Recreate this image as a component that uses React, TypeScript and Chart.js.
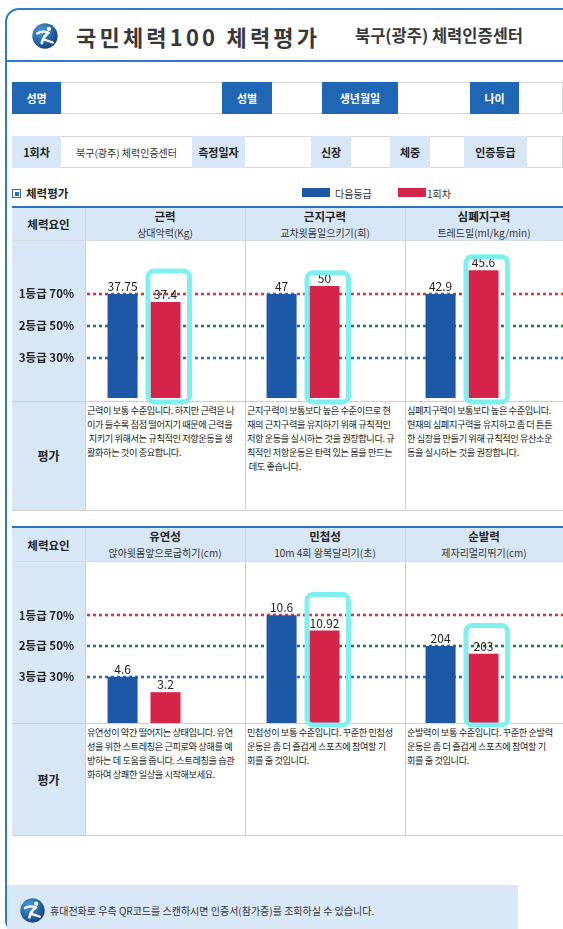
import React, { useEffect, useRef } from 'react';
import { Chart, registerables } from 'chart.js';

Chart.register(...registerables);

const FONT = '"Noto Sans CJK KR", "Noto Sans", sans-serif';

// ---- data ----
const seriesNames = ['다음등급', '1회차', '2회차'];

const gradeLevels = [70, 50, 30];
const gradeLabels = ['1등급 70%', '2등급 50%', '3등급 30%'];

const row1Factors = ['근력', '근지구력', '심폐지구력'];
const row1Tests = ['상대악력(Kg)', '교차윗몸일으키기(회)', '트레드밀(ml/kg/min)'];
const row1NextValues = [37.75, 47, 42.9];
const row1FirstValues = [37.4, 50, 45.6];
const row1NextLevel = [70, 70, 70];
const row1FirstLevel = [65, 75, 85];
const row1MarkTop = [86, 85, 95];

const row2Factors = ['유연성', '민첩성', '순발력'];
const row2Tests = ['앉아윗몸앞으로굽히기(cm)', '10m 4회 왕복달리기(초)', '제자리멀리뛰기(cm)'];
const row2NextValues = [4.6, 10.6, 204];
const row2FirstValues = [3.2, 10.92, 203];
const row2NextLevel = [30, 70, 50];
const row2FirstLevel = [20, 60, 45];
const row2MarkTop: (number | null)[] = [null, 85, 65];

const row1Comments = [
  ['근력이 보통 수준입니다. 하지만 근력은 나', '이가 들수록 점점 떨어지기 때문에 근력을', ' 지키기 위해서는 규칙적인 저항운동을 생', '활화하는 것이 중요합니다.'],
  ['근지구력이 보통보다 높은 수준이므로 현', '재의 근지구력을 유지하기 위해 규칙적인', '저항 운동을 실시하는 것을 권장합니다. 규', '칙적인 저항운동은 탄력 있는 몸을 만드는', ' 데도 좋습니다.'],
  ['심폐지구력이 보통보다 높은 수준입니다.', '현재의 심폐지구력을 유지하고 좀 더 튼튼', '한 심장을 만들기 위해 규칙적인 유산소운', '동을 실시하는 것을 권장합니다.'],
];
const row2Comments = [
  ['유연성이 약간 떨어지는 상태입니다. 유연', '성을 위한 스트레칭은 근피로와 상해를 예', '방하는 데 도움을 줍니다. 스트레칭을 습관', '화하여 상쾌한 일상을 시작해보세요.'],
  ['민첩성이 보통 수준입니다. 꾸준한 민첩성', '운동은 좀 더 즐겁게 스포츠에 참여할 기', '회를 줄 것입니다.'],
  ['순발력이 보통 수준입니다. 꾸준한 순발력', '운동은 좀 더 즐겁게 스포츠에 참여할 기', '회를 줄 것입니다.'],
];

// ---- styles ----
const BLUE_BAR = '#1d58a6';
const RED_BAR = '#d6234a';
const GRADE_COLORS = ['#d9343f', '#2a7a45', '#2b6cc4'];
const FRAME_BLUE = '#2d7bc6';
const CELL_BLUE = '#1f66b5';
const LIGHT = '#d7e7f6';
const MARK = '#7ff0f0';

const overlayPlugin = {
  id: 'overlay',
  beforeDatasetsDraw(chart: any) {
    const { ctx, chartArea, scales } = chart;
    const y = scales.y;
    ctx.save();
    ctx.lineWidth = 2.6;
    ctx.setLineDash([3, 3]);
    gradeLevels.forEach((v, i) => {
      const py = Math.round(y.getPixelForValue(v));
      ctx.strokeStyle = GRADE_COLORS[i];
      ctx.beginPath();
      ctx.moveTo(chartArea.left + 1, py);
      ctx.lineTo(chartArea.right, py);
      ctx.stroke();
    });
    ctx.restore();
  },
  afterDatasetsDraw(chart: any, _args: any, opts: any) {
    const { ctx, chartArea, scales } = chart;
    const y = scales.y;
    ctx.save();
    ctx.font = `12px ${FONT}`;
    ctx.fillStyle = '#222';
    ctx.textAlign = 'center';
    ctx.textBaseline = 'alphabetic';
    const texts = [opts.nextValues, opts.firstValues];
    [0, 1].forEach((di) => {
      const meta = chart.getDatasetMeta(di);
      meta.data.forEach((bar: any, j: number) => {
        ctx.fillText(String(texts[di][j]), bar.x, bar.y - 3);
      });
    });
    const redMeta = chart.getDatasetMeta(1);
    ctx.strokeStyle = MARK;
    ctx.lineWidth = 5;
    (opts.markTop as (number | null)[]).forEach((t, j) => {
      if (t == null) return;
      const bar: any = redMeta.data[j];
      const left = bar.x - bar.width / 2 - 2.5;
      const right = bar.x + bar.width / 2 + 9;
      const top = y.getPixelForValue(t) + 2.5;
      const bottom = chartArea.bottom + opts.markBottom;
      ctx.beginPath();
      ctx.roundRect(left, top, right - left, bottom - top, 6);
      ctx.stroke();
    });
    ctx.restore();
  },
};

type ChartProps = {
  labels: string[];
  nextLevel: number[];
  firstLevel: number[];
  nextValues: number[];
  firstValues: number[];
  markTop: (number | null)[];
  yMin: number;
  yMax: number;
  height: number;
  padBottom: number;
  markBottom: number;
  style: React.CSSProperties;
};

function GradeChart(p: ChartProps) {
  const ref = useRef<HTMLCanvasElement>(null);
  useEffect(() => {
    const chart = new Chart(ref.current as HTMLCanvasElement, {
      type: 'bar',
      data: {
        labels: p.labels,
        datasets: [
          { label: seriesNames[0], data: p.nextLevel, backgroundColor: BLUE_BAR },
          { label: seriesNames[1], data: p.firstLevel, backgroundColor: RED_BAR },
          { label: seriesNames[2], data: p.nextLevel.map(() => null), backgroundColor: 'rgba(0,0,0,0)' },
        ],
      },
      options: {
        responsive: false,
        animation: false,
        layout: { padding: { top: 0, bottom: p.padBottom, left: 0, right: 0 } },
        datasets: { bar: { categoryPercentage: 0.81, barPercentage: 0.7 } },
        plugins: {
          legend: { display: false },
          tooltip: { enabled: false },
          overlay: {
            nextValues: p.nextValues,
            firstValues: p.firstValues,
            markTop: p.markTop,
            markBottom: p.markBottom,
          },
        } as any,
        scales: {
          x: { display: false },
          y: {
            min: p.yMin,
            max: p.yMax,
            afterBuildTicks: (s: any) => {
              s.ticks = gradeLevels.map((v) => ({ value: v }));
            },
            afterFit: (s: any) => {
              s.width = 74;
              s.paddingTop = 0;
              s.paddingBottom = 0;
              s.paddingLeft = 0;
              s.paddingRight = 0;
            },
            grid: { display: false, drawTicks: false },
            border: { display: false },
            ticks: {
              padding: 12,
              color: '#222',
              font: { family: FONT, size: 11.5, weight: 'bold' },
              callback: (v: any) => gradeLabels[gradeLevels.indexOf(Number(v))],
            },
          },
        },
      } as any,
      plugins: [overlayPlugin],
    });
    return () => chart.destroy();
  }, []);
  return <canvas ref={ref} width={551} height={p.height} style={{ position: 'absolute', ...p.style }} />;
}

function Logo({ size, id }: { size: number; id: string }) {
  return (
    <svg width={size} height={size} viewBox="0 0 40 40">
      <defs>
        <radialGradient id={id} cx="35%" cy="30%" r="75%">
          <stop offset="0" stopColor="#4a9ae0" />
          <stop offset="1" stopColor="#12427a" />
        </radialGradient>
      </defs>
      <circle cx="20" cy="20" r="19.5" fill={`url(#${id})`} />
      <circle cx="26" cy="9" r="3.4" fill="#fff" />
      <path d="M8 16 Q16 11 26 15" stroke="#fff" strokeWidth="3.6" fill="none" strokeLinecap="round" />
      <path d="M24 16 Q17 22 15 31" stroke="#fff" strokeWidth="4" fill="none" strokeLinecap="round" />
      <path d="M17 25 Q24 27 32 30" stroke="#fff" strokeWidth="3.4" fill="none" strokeLinecap="round" />
    </svg>
  );
}

const abs = (l: number, t: number, w: number, h: number, extra: React.CSSProperties = {}): React.CSSProperties => ({
  position: 'absolute', left: l, top: t, width: w, height: h, boxSizing: 'border-box', ...extra,
});

const centerText = (extra: React.CSSProperties = {}): React.CSSProperties => ({
  display: 'flex', alignItems: 'center', justifyContent: 'center', ...extra,
});

const COLS = [85, 245, 405];
const COL_W = [160, 160, 158];

function Table({ top, factors, tests, comments, chartTop, chartBottom, bottom, children }: any) {
  return (
    <>
      <div style={abs(12, top - 2, 551, 2, { background: '#2a72c0' })} />
      <div style={abs(12, top, 551, chartTop - top, { background: LIGHT })} />
      <div style={abs(12, chartTop, 73, bottom - chartTop, { background: LIGHT })} />
      <div style={abs(12, top, 73, chartTop - top, centerText({ fontWeight: 700, fontSize: 11.5, color: '#222' }))}>체력요인</div>
      {factors.map((f: string, i: number) => (
        <React.Fragment key={f}>
          <div style={abs(COLS[i], top + 1, COL_W[i], 14, centerText({ fontWeight: 700, fontSize: 11.5, color: '#222' }))}>{f}</div>
          <div style={abs(COLS[i], top + 17, COL_W[i], 14, centerText({ fontSize: 10, color: '#333' }))}>{tests[i]}</div>
          <div
            style={abs(COLS[i] + 2, chartBottom + 2, COL_W[i] - 2, bottom - chartBottom - 2, {
              fontSize: 9.2, lineHeight: '14px', letterSpacing: '-0.4px', whiteSpace: 'pre', color: '#222',
            })}
          >
            {comments[i].join('\n')}
          </div>
        </React.Fragment>
      ))}
      {COLS.map((x) => (
        <React.Fragment key={x}>
          <div style={abs(x, top, 1, chartTop - top, { background: '#c4d3e4' })} />
          <div style={abs(x, chartTop, 1, bottom - chartTop, { background: '#cfcfcf' })} />
        </React.Fragment>
      ))}
      <div style={abs(12, chartTop, 551, 1, { background: '#d2dbe6' })} />
      <div style={abs(12, chartBottom, 551, 1, { background: '#d0d0d0' })} />
      <div style={abs(12, bottom, 551, 1, { background: '#d0d0d0' })} />
      <div style={abs(12, chartBottom, 73, bottom - chartBottom, centerText({ fontWeight: 700, fontSize: 12, color: '#222' }))}>평가</div>
      {children}
    </>
  );
}

export default function App() {
  const infoCell = (l: number, w: number, text: string, dark: boolean, top: number) => (
    <div
      style={abs(l, top, w, 32, centerText({
        background: dark ? CELL_BLUE : LIGHT,
        color: dark ? '#fff' : '#222',
        fontWeight: 700,
        fontSize: 11,
      }))}
    >
      {text}
    </div>
  );
  return (
    <div style={{ position: 'relative', width: 563, height: 929, overflow: 'hidden', background: '#fff', fontFamily: FONT }}>
      <style>{'body{margin:0;}'}</style>
      {/* frame */}
      <div style={abs(5, 8, 640, 926, { border: `2px solid ${FRAME_BLUE}`, borderRadius: 14 })} />
      <div style={abs(5, 60, 600, 2, { background: FRAME_BLUE })} />

      {/* header */}
      <div style={abs(32, 23, 26, 26)}><Logo size={26} id="lg1" /></div>
      <div style={abs(76, 18, 280, 36, { display: 'flex', alignItems: 'center', fontSize: 22, fontWeight: 700, letterSpacing: '3.2px', color: '#383838', whiteSpace: 'nowrap' })}>
        국민체력100 체력평가
      </div>
      <div style={abs(355, 18, 200, 34, { display: 'flex', alignItems: 'center', fontSize: 16.5, fontWeight: 700, color: '#383838', whiteSpace: 'nowrap' })}>
        북구(광주) 체력인증센터
      </div>

      {/* info row 1 */}
      <div style={abs(12, 82, 551, 32, { border: '1px solid #d8d8d8' })} />
      {infoCell(12, 49, '성명', true, 82)}
      {infoCell(222, 50, '성별', true, 82)}
      {infoCell(322, 76, '생년월일', true, 82)}
      {infoCell(470, 49, '나이', true, 82)}

      {/* info row 2 */}
      <div style={abs(12, 136, 551, 32, { border: '1px solid #d8d8d8' })} />
      {infoCell(12, 49, '1회차', false, 136)}
      <div style={abs(61, 136, 131, 32, centerText({ fontSize: 10, color: '#333' }))}>북구(광주) 체력인증센터</div>
      {infoCell(192, 53, '측정일자', false, 136)}
      {infoCell(311, 40, '신장', false, 136)}
      {infoCell(390, 40, '체중', false, 136)}
      {infoCell(464, 63, '인증등급', false, 136)}

      {/* section title + legend */}
      <div style={abs(12, 189, 9, 9, { border: '1.5px solid #2a6fbd', padding: 1.5 })}>
        <div style={{ width: '100%', height: '100%', background: '#2a6fbd' }} />
      </div>
      <div style={abs(26, 184, 80, 18, { display: 'flex', alignItems: 'center', fontSize: 11.5, fontWeight: 700, color: '#222' })}>체력평가</div>
      <div style={abs(302, 188, 28, 9, { background: BLUE_BAR })} />
      <div style={abs(335, 184, 60, 18, { display: 'flex', alignItems: 'center', fontSize: 10, color: '#333' })}>{seriesNames[0]}</div>
      <div style={abs(398, 188, 28, 9, { background: RED_BAR })} />
      <div style={abs(427, 184, 60, 18, { display: 'flex', alignItems: 'center', fontSize: 10, color: '#333' })}>{seriesNames[1]}</div>

      <Table top={208} factors={row1Factors} tests={row1Tests} comments={row1Comments} chartTop={240} chartBottom={401} bottom={510}>
        <GradeChart
          labels={row1Factors}
          nextLevel={row1NextLevel}
          firstLevel={row1FirstLevel}
          nextValues={row1NextValues}
          firstValues={row1FirstValues}
          markTop={row1MarkTop}
          yMin={4.6}
          yMax={104}
          height={170}
          padBottom={12}
          markBottom={4}
          style={{ left: 12, top: 240 }}
        />
      </Table>

      <Table top={528} factors={row2Factors} tests={row2Tests} comments={row2Comments} chartTop={561} chartBottom={723} bottom={835}>
        <GradeChart
          labels={row2Factors}
          nextLevel={row2NextLevel}
          firstLevel={row2FirstLevel}
          nextValues={row2NextValues}
          firstValues={row2FirstValues}
          markTop={row2MarkTop}
          yMin={0}
          yMax={105.2}
          height={172}
          padBottom={10}
          markBottom={2}
          style={{ left: 12, top: 561 }}
        />
      </Table>

      {/* footer */}
      <div style={abs(7, 885, 511, 50, { background: '#d9e8f6' })} />
      <div style={abs(20, 898, 25, 25)}><Logo size={25} id="lg2" /></div>
      <div style={abs(50, 900, 400, 20, { display: 'flex', alignItems: 'center', fontSize: 10, color: '#333', whiteSpace: 'nowrap' })}>
        휴대전화로 우측 QR코드를 스캔하시면 인증서(참가증)를 조회하실 수 있습니다.
      </div>
    </div>
  );
}
